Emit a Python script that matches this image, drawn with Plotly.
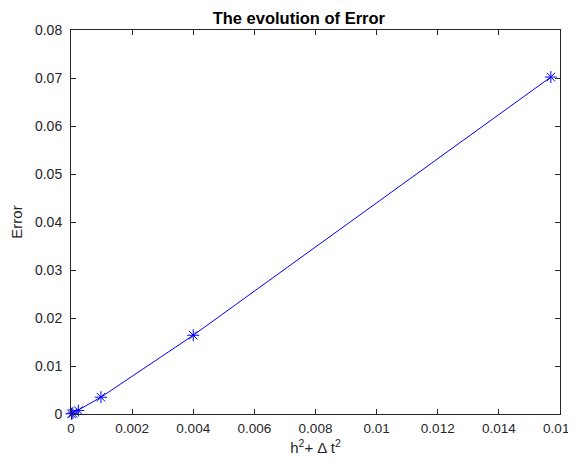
import plotly.graph_objects as go

h2_dt2 = [0.0157, 0.0040, 0.00098, 0.00024, 0.00006, 0.000015]
error = [0.0702, 0.0164, 0.0035, 0.0007, 0.00017, 0.00004]

x_ticks = [0, 0.002, 0.004, 0.006, 0.008, 0.01, 0.012, 0.014, 0.016]
x_labels = ["0", "0.002", "0.004", "0.006", "0.008", "0.01", "0.012", "0.014", "0.016"]
y_ticks = [0, 0.01, 0.02, 0.03, 0.04, 0.05, 0.06, 0.07, 0.08]
y_labels = ["0", "0.01", "0.02", "0.03", "0.04", "0.05", "0.06", "0.07", "0.08"]

font = "Liberation Sans, Arial, sans-serif"

fig = go.Figure()
fig.add_trace(go.Scatter(
    x=h2_dt2, y=error, mode="lines+markers",
    line=dict(color="#0000ff", width=1),
    marker=dict(symbol="asterisk-open", size=10, color="#0000ff",
                line=dict(color="#0000ff", width=1)),
    showlegend=False, cliponaxis=False,
))

axis_common = dict(
    showgrid=False, zeroline=False, showline=True, linecolor="#262626",
    linewidth=1, mirror="ticks", ticks="inside", ticklen=5, tickcolor="#262626",
    ticklabeloverflow="allow", automargin=False,
)

# page body has an 8px margin: figure is 568x448 placed at (8, 8),
# sized so the page does not overflow the 576x464 window
fig.update_layout(
    width=568, height=448,
    margin=dict(l=63, r=16, t=22, b=42, autoexpand=False),
    paper_bgcolor="white", plot_bgcolor="white",
    title=dict(text="<b>The evolution of Error</b>", x=0.466, xref="paper",
               xanchor="center", y=1, yref="paper", yanchor="bottom",
               pad=dict(b=6), automargin=False,
               font=dict(family=font, size=16.5, color="black")),
    xaxis=dict(range=[0, 0.016], tickvals=x_ticks, ticktext=x_labels,
               ticklabelstandoff=2,
               tickfont=dict(family=font, size=13.5, color="#262626"),
               title=dict(text="h<sup>2</sup>+ Δ t<sup>2</sup>", standoff=8,
                          font=dict(family=font, size=15, color="#262626")),
               **axis_common),
    yaxis=dict(range=[0, 0.08], tickvals=y_ticks, ticktext=y_labels,
               ticklabelstandoff=5,
               tickfont=dict(family=font, size=14, color="#262626"),
               title=dict(text="Error", standoff=12,
                          font=dict(family=font, size=15, color="#262626")),
               **axis_common),
)

fig.write_html("out.html")
